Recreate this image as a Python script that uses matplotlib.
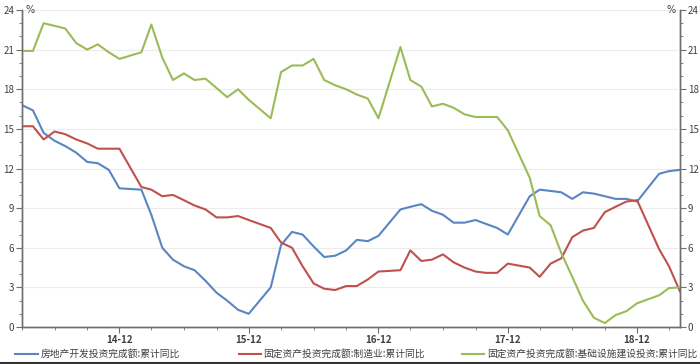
import matplotlib
matplotlib.use("Agg")
import matplotlib.pyplot as plt
import matplotlib.dates as mdates
from matplotlib.ticker import MultipleLocator
from matplotlib.lines import Line2D
import pandas as pd

plt.rcParams['font.family'] = ['Noto Sans CJK SC', 'DejaVu Sans']

# monthly cumulative YoY, Jan missing (Jan-Feb reported together)
months = (["2014-%02d" % m for m in range(3, 13)] +
          ["%d-%02d" % (y, m) for y in (2015, 2016, 2017, 2018) for m in range(2, 13)] +
          ["2019-02", "2019-03", "2019-04"])

real_estate = [16.8, 16.4, 14.7, 14.1, 13.7, 13.2, 12.5, 12.4, 11.9, 10.5,
               10.4, 8.5, 6.0, 5.1, 4.6, 4.3, 3.5, 2.6, 2.0, 1.3, 1.0,
               3.0, 6.2, 7.2, 7.0, 6.1, 5.3, 5.4, 5.8, 6.6, 6.5, 6.9,
               8.9, 9.1, 9.3, 8.8, 8.5, 7.9, 7.9, 8.1, 7.8, 7.5, 7.0,
               9.9, 10.4, 10.3, 10.2, 9.7, 10.2, 10.1, 9.9, 9.7, 9.7, 9.5,
               11.6, 11.8, 11.9]

manufacturing = [15.2, 15.2, 14.2, 14.8, 14.6, 14.2, 13.9, 13.5, 13.5, 13.5,
                 10.6, 10.4, 9.9, 10.0, 9.6, 9.2, 8.9, 8.3, 8.3, 8.4, 8.1,
                 7.5, 6.4, 6.0, 4.6, 3.3, 2.9, 2.8, 3.1, 3.1, 3.6, 4.2,
                 4.3, 5.8, 5.0, 5.1, 5.5, 4.9, 4.5, 4.2, 4.1, 4.1, 4.8,
                 4.5, 3.8, 4.8, 5.2, 6.8, 7.3, 7.5, 8.7, 9.1, 9.5, 9.6,
                 5.9, 4.6, 2.7]

infrastructure = [20.9, 20.9, 23.0, 22.8, 22.6, 21.5, 21.0, 21.4, 20.8, 20.3,
                  20.8, 22.9, 20.4, 18.7, 19.2, 18.7, 18.8, 18.1, 17.4, 18.0, 17.2,
                  15.8, 19.3, 19.8, 19.8, 20.3, 18.7, 18.3, 18.0, 17.6, 17.3, 15.8,
                  21.2, 18.7, 18.2, 16.7, 16.9, 16.6, 16.1, 15.9, 15.9, 15.9, 14.9,
                  11.3, 8.4, 7.7, 5.6, 3.8, 2.0, 0.7, 0.3, 0.9, 1.2, 1.8,
                  2.4, 2.95, 3.0]

labels = ["房地产开发投资完成额:累计同比",
          "固定资产投资完成额:制造业:累计同比",
          "固定资产投资完成额:基础设施建设投资:累计同比"]
colors = ["#5a85c3", "#c0504d", "#9bbb59"]

dates = pd.to_datetime(months)

fig = plt.figure(figsize=(7.0, 3.64), dpi=100)
ax = fig.add_axes([0.0314, 0.1016, 0.9400, 0.8709])
ax2 = ax.twinx()

lines = []
for vals, c, lab in zip([real_estate, manufacturing, infrastructure], colors, labels):
    ln, = ax.plot(dates, vals, color=c, lw=1.5, label=lab)
    lines.append(ln)

spine_c = "#6e6e6e"
txt_c = "#404040"
for a in (ax, ax2):
    a.set_ylim(0, 24)
    a.yaxis.set_major_locator(MultipleLocator(3))
    a.yaxis.set_minor_locator(MultipleLocator(1))
    a.spines['top'].set_visible(False)
    for s in a.spines.values():
        s.set_color(spine_c)
        s.set_linewidth(1.0)
    a.tick_params(axis='both', which='major', length=4, color=spine_c,
                  labelsize=7, labelcolor=txt_c, pad=1.5)
    a.tick_params(axis='both', which='minor', length=2.5, color=spine_c)

ax.set_xlim(dates[0], dates[-1])
ax.xaxis.set_major_locator(mdates.MonthLocator(bymonth=[12]))
ax.xaxis.set_minor_locator(mdates.MonthLocator(bymonth=[3, 6, 9, 12]))
ax.xaxis.set_major_formatter(mdates.DateFormatter('%y-%m'))
for t in ax.get_xticklabels():
    t.set_fontweight('bold')
ax.tick_params(axis='x', which='major', pad=1.5)
ax.grid(axis='y', which='major', color='#ececec', lw=0.8)
ax.set_axisbelow(True)
ax.patch.set_visible(False)
ax2.set_zorder(-1)

ax.text(0.006, 1.0, "%", transform=ax.transAxes, fontsize=7, color=txt_c,
        ha='left', va='center', family='DejaVu Sans')
ax.text(0.994, 1.0, "%", transform=ax.transAxes, fontsize=7, color=txt_c,
        ha='right', va='center', family='DejaVu Sans')

# legend, three entries at fixed positions along the bottom
for ln, x in zip(lines, [0.022, 0.341, 0.660]):
    fig.legend(handles=[ln], loc='center left', bbox_to_anchor=(x, 0.027),
               frameon=False, fontsize=7, handlelength=2.3, handletextpad=0.25,
               borderpad=0, borderaxespad=0, labelcolor=txt_c)

fig.add_artist(Line2D([0, 1], [0.004, 0.004], transform=fig.transFigure,
                      color="#333333", lw=1.5))

fig.savefig("out.png", dpi=100)
